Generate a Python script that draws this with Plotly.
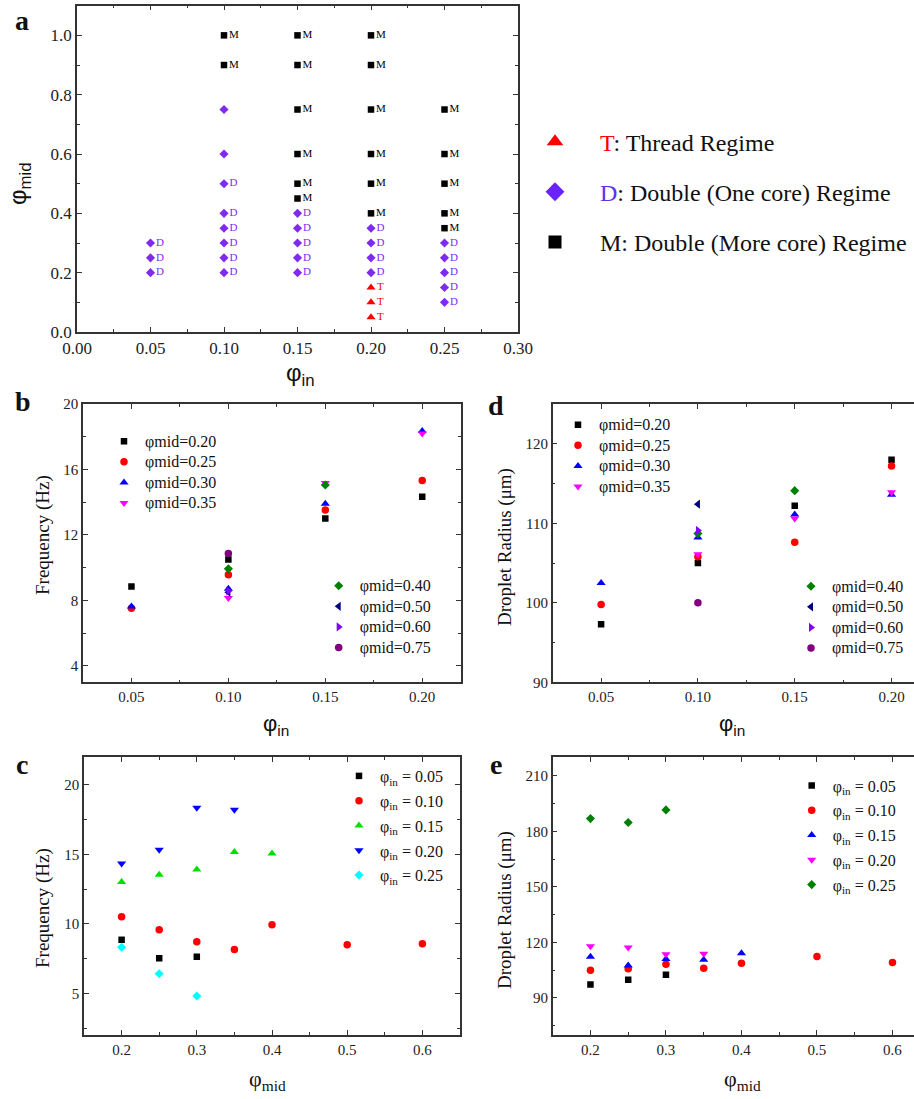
import plotly.graph_objects as go

W, H = 914, 1099
N = None

# ---------------- regime map (panel a) ----------------
thread_in = [0.20, 0.20, 0.20]
thread_mid = [0.05, 0.10, 0.15]

one_core_in = [0.05, 0.05, 0.05,
               0.10, 0.10, 0.10, 0.10, 0.10, 0.10, 0.10, 0.10,
               0.15, 0.15, 0.15, 0.15, 0.15,
               0.20, 0.20, 0.20, 0.20,
               0.25, 0.25, 0.25, 0.25, 0.25]
one_core_mid = [0.20, 0.25, 0.30,
                0.20, 0.25, 0.30, 0.35, 0.40, 0.50, 0.60, 0.75,
                0.20, 0.25, 0.30, 0.35, 0.40,
                0.20, 0.25, 0.30, 0.35,
                0.10, 0.15, 0.20, 0.25, 0.30]
one_core_tag = ["D"] * 9 + ["", ""] + ["D"] * 14

more_core_in = [0.10, 0.10,
                0.15, 0.15, 0.15, 0.15, 0.15, 0.15,
                0.20, 0.20, 0.20, 0.20, 0.20, 0.20,
                0.25, 0.25, 0.25, 0.25, 0.25]
more_core_mid = [0.90, 1.00,
                 0.45, 0.50, 0.60, 0.75, 0.90, 1.00,
                 0.40, 0.50, 0.60, 0.75, 0.90, 1.00,
                 0.35, 0.40, 0.50, 0.60, 0.75]

# ---------------- measurements (panels b-e) ----------------
phi_in = [0.05, 0.10, 0.15, 0.20, 0.25]
phi_mid = [0.20, 0.25, 0.30, 0.35, 0.40, 0.50, 0.60, 0.75]

# frequency (Hz), one row per phi_in, columns follow phi_mid
freq_in_005 = [8.85, 7.52, 7.63, N, N, N, N, N]
freq_in_010 = [10.50, 9.57, 8.71, 8.15, 9.93, 8.50, 8.57, 10.87]
freq_in_015 = [13.00, 13.52, 13.90, 15.17, 15.05, N, N, N]
freq_in_020 = [14.33, 15.33, 18.35, 18.20, N, N, N, N]
freq_in_025 = [8.31, 6.41, 4.81, N, N, N, N, N]

# droplet radius (um), same layout
radius_in_005 = [97.3, 99.8, 102.5, N, N, N, N, N]
radius_in_010 = [105.0, 105.8, 108.2, 106.1, 108.7, 112.4, 109.1, 100.0]
radius_in_015 = [112.2, 107.6, 111.1, 110.6, 114.1, N, N, N]
radius_in_020 = [118.0, 117.2, 113.6, 113.9, N, N, N, N]
radius_in_025 = [186.9, 184.8, 191.6, N, N, N, N, N]

freq_rows = [freq_in_005, freq_in_010, freq_in_015, freq_in_020, freq_in_025]
radius_rows = [radius_in_005, radius_in_010, radius_in_015, radius_in_020, radius_in_025]

mid_labels = ["φmid=0.20", "φmid=0.25", "φmid=0.30", "φmid=0.35",
              "φmid=0.40", "φmid=0.50", "φmid=0.60", "φmid=0.75"]
in_labels = ["φ<sub>in</sub> = 0.05", "φ<sub>in</sub> = 0.10", "φ<sub>in</sub> = 0.15",
             "φ<sub>in</sub> = 0.20", "φ<sub>in</sub> = 0.25"]

# marker styles
mid_symbols = ["square", "circle", "triangle-up", "triangle-down",
               "diamond", "triangle-left", "triangle-right", "circle"]
mid_colors = ["#000000", "#ff0000", "#0000ff", "#ff00ff",
              "#008000", "#000080", "#8000ff", "#800080"]
mid_sizes = [6.5, 7.5, 8, 8, 7, 8, 8, 7.5]

in_symbols = ["square", "circle", "triangle-up", "triangle-down", "diamond"]
freq_in_colors = ["#000000", "#ff0000", "#00e000", "#0000ff", "#00ffff"]
radius_in_colors = ["#000000", "#ff0000", "#0000ff", "#ff00ff", "#008000"]
in_sizes = [6.5, 7.5, 8, 8, 7]

SERIF = "Liberation Serif"
SANS = "Liberation Sans"
AX = "#333333"
VIOLET = "#7f2bef"

fig = go.Figure()


def px_x(p):
    return p / W


def px_y(p):
    return 1 - p / H


def big(text, size=16):
    # legend entries keep a compact row pitch while showing full-size text
    return '<span style="font-size:%dpx">%s</span>' % (size, text)


# ---------------- panel a ----------------
fig.add_trace(go.Scatter(x=thread_in, y=thread_mid, mode="markers+text", text=["T"] * 3,
                         textposition="middle right",
                         textfont=dict(family=SERIF, size=11, color="#ff0000"),
                         marker=dict(symbol="triangle-up", size=8, color="#ff0000"),
                         xaxis="x", yaxis="y", showlegend=False, cliponaxis=False))
fig.add_trace(go.Scatter(x=one_core_in, y=one_core_mid, mode="markers+text", text=one_core_tag,
                         textposition="middle right",
                         textfont=dict(family=SERIF, size=11, color=VIOLET),
                         marker=dict(symbol="diamond", size=7, color=VIOLET),
                         xaxis="x", yaxis="y", showlegend=False, cliponaxis=False))
fig.add_trace(go.Scatter(x=more_core_in, y=more_core_mid, mode="markers+text", text=["M"] * len(more_core_in),
                         textposition="middle right",
                         textfont=dict(family=SERIF, size=11, color="#000000"),
                         marker=dict(symbol="square", size=6.5, color="#000000"),
                         xaxis="x", yaxis="y", showlegend=False, cliponaxis=False))

# legend entries for the regimes
regime_names = ['<span style="color:#ff0000">T</span>: Thread Regime',
                '<span style="color:#5a34e8">D</span>: Double (One core) Regime',
                'M: Double (More core) Regime']
regime_symbols = ["triangle-up", "diamond", "square"]
regime_colors = ["#ff0000", "#6a22ff", "#000000"]
regime_sizes = [14.5, 14.5, 13]
for k in range(3):
    fig.add_trace(go.Scatter(x=[None], y=[None], mode="markers", name=regime_names[k],
                             marker=dict(symbol=regime_symbols[k], size=regime_sizes[k], color=regime_colors[k]),
                             xaxis="x", yaxis="y", legend="legend", legendgroup="r%d" % k))

# ---------------- panels b and d (vs phi_in) ----------------
shown_in = 4  # phi_in = 0.05 ... 0.20
for j in range(len(phi_mid)):
    leg_b = "legend2" if j < 4 else "legend3"
    leg_d = "legend4" if j < 4 else "legend5"
    xs = [phi_in[i] for i in range(shown_in) if freq_rows[i][j] is not None]
    ys = [freq_rows[i][j] for i in range(shown_in) if freq_rows[i][j] is not None]
    fig.add_trace(go.Scatter(x=xs, y=ys, mode="markers", name=big(mid_labels[j]),
                             marker=dict(symbol=mid_symbols[j], size=mid_sizes[j], color=mid_colors[j]),
                             xaxis="x2", yaxis="y2", legend=leg_b))
    xs = [phi_in[i] for i in range(shown_in) if radius_rows[i][j] is not None]
    ys = [radius_rows[i][j] for i in range(shown_in) if radius_rows[i][j] is not None]
    fig.add_trace(go.Scatter(x=xs, y=ys, mode="markers", name=big(mid_labels[j]),
                             marker=dict(symbol=mid_symbols[j], size=mid_sizes[j], color=mid_colors[j]),
                             xaxis="x3", yaxis="y3", legend=leg_d))

# ---------------- panels c and e (vs phi_mid) ----------------
for i in range(len(phi_in)):
    cols = [j for j in range(len(phi_mid)) if phi_mid[j] <= 0.6]
    xs = [phi_mid[j] for j in cols if freq_rows[i][j] is not None]
    ys = [freq_rows[i][j] for j in cols if freq_rows[i][j] is not None]
    fig.add_trace(go.Scatter(x=xs, y=ys, mode="markers", name=in_labels[i],
                             marker=dict(symbol=in_symbols[i], size=in_sizes[i], color=freq_in_colors[i]),
                             xaxis="x4", yaxis="y4", legend="legend6", legendgroup="c%d" % i))
    xs = [phi_mid[j] for j in cols if radius_rows[i][j] is not None]
    ys = [radius_rows[i][j] for j in cols if radius_rows[i][j] is not None]
    fig.add_trace(go.Scatter(x=xs, y=ys, mode="markers", name=in_labels[i],
                             marker=dict(symbol=in_symbols[i], size=in_sizes[i], color=radius_in_colors[i]),
                             xaxis="x5", yaxis="y5", legend="legend7", legendgroup="e%d" % i))


def axis(domain, rng, dtick, minor_dtick, fmt, size, anchor, mirror=True):
    return dict(domain=domain, range=rng, dtick=dtick, tick0=0, tickformat=fmt,
                ticks="inside", ticklen=5, tickwidth=1.2, tickcolor=AX,
                showline=True, linecolor=AX, linewidth=1.5,
                mirror="ticks" if mirror else False,
                showgrid=False, zeroline=False, anchor=anchor,
                tickfont=dict(family=SERIF, size=size, color="#222222"),
                minor=dict(dtick=minor_dtick, tick0=0, ticks="inside", ticklen=3,
                           tickwidth=1.2, tickcolor=AX, showgrid=False))


# pixel boxes of the panels
a_x, a_y = [px_x(77), px_x(518)], [px_y(332), px_y(5.7)]
b_x, b_y = [px_x(83), px_x(461)], [px_y(682.3), px_y(404)]
d_x, d_y = [px_x(552.7), 1.0], [px_y(682.3), px_y(404)]
c_x, c_y = [px_x(84), px_x(460)], [px_y(1035), px_y(757)]
e_x, e_y = [px_x(552.7), 1.0], [px_y(1035), px_y(757.3)]

layout_axes = dict(
    xaxis=axis(a_x, [0, 0.30], 0.05, 0.025, ".2f", 17, "y"),
    yaxis=axis(a_y, [0, 1.1], 0.2, 0.1, ".1f", 17, "x"),
    xaxis2=axis(b_x, [0.025, 0.22], 0.05, 0.025, ".2f", 15, "y2"),
    yaxis2=axis(b_y, [3, 20], 4, 2, "d", 15, "x2"),
    xaxis3=axis(d_x, [0.025, 0.2116], 0.05, 0.025, ".2f", 15, "y3"),
    yaxis3=axis(d_y, [90, 125], 10, 5, "d", 15, "x3", mirror=False),
    xaxis4=axis(c_x, [0.15, 0.65], 0.1, 0.05, ".1f", 15, "y4"),
    yaxis4=axis(c_y, [2, 22], 5, 2.5, "d", 15, "x4"),
    xaxis5=axis(e_x, [0.15, 0.6285], 0.1, 0.05, ".1f", 15, "y5"),
    yaxis5=axis(e_y, [70, 220], 30, 15, "d", 15, "x5", mirror=False),
)


def legend_box(left, top, size, gap, itemwidth=32):
    return dict(x=px_x(left), y=px_y(top), xanchor="left", yanchor="top",
                font=dict(family=SERIF, size=size, color="#111111"),
                bgcolor="rgba(0,0,0,0)", borderwidth=0, tracegroupgap=gap,
                itemwidth=itemwidth, itemclick=False, itemdoubleclick=False)


annotations = []


def note(text, x, y, size, family=SERIF, bold=False, angle=0):
    annotations.append(dict(text="<b>%s</b>" % text if bold else text,
                            x=px_x(x), y=px_y(y), xref="paper", yref="paper",
                            xanchor="center", yanchor="middle", showarrow=False,
                            textangle=angle, font=dict(family=family, size=size, color="#111111")))


# panel letters
note("a", 22, 20, 28, bold=True)
note("b", 23, 401, 28, bold=True)
note("c", 22, 764, 28, bold=True)
note("d", 496, 405, 28, bold=True)
note("e", 496, 764, 28, bold=True)

# axis titles
note("φ<sub>in</sub>", 300, 374, 24, family=SANS)
note("φ<sub>mid</sub>", 20, 184, 24, family=SANS, angle=-90)
note("φ<sub>in</sub>", 276, 725, 22, family=SANS)
note("φ<sub>in</sub>", 732, 725, 22, family=SANS)
note("φ<sub>mid</sub>", 267, 1080, 22)
note("φ<sub>mid</sub>", 742, 1080, 22)
note("Frequency (Hz)", 43, 535, 19, angle=-90)
note("Frequency (Hz)", 43, 908, 19, angle=-90)
note("Droplet Radius (μm)", 505, 547, 19, angle=-90)
note("Droplet Radius (μm)", 505, 910, 19, angle=-90)

fig.update_layout(
    width=W, height=H, autosize=False,
    margin=dict(l=0, r=0, t=0, b=0, autoexpand=False),
    font=dict(family=SERIF, color="#111111"),
    paper_bgcolor="white", plot_bgcolor="white",
    legend=legend_box(510, 119.5, 24, 16, itemwidth=80),
    legend2=legend_box(103, 426, 13.5, 0),
    legend3=legend_box(317.7, 570.5, 13.5, 0),
    legend4=legend_box(557, 409.5, 13.5, 0),
    legend5=legend_box(790, 571, 13.5, 0),
    legend6=legend_box(338, 759, 16, 1),
    legend7=legend_box(790.7, 768.5, 16, 1),
    annotations=annotations,
    **layout_axes,
)

fig.write_html("out.html")
